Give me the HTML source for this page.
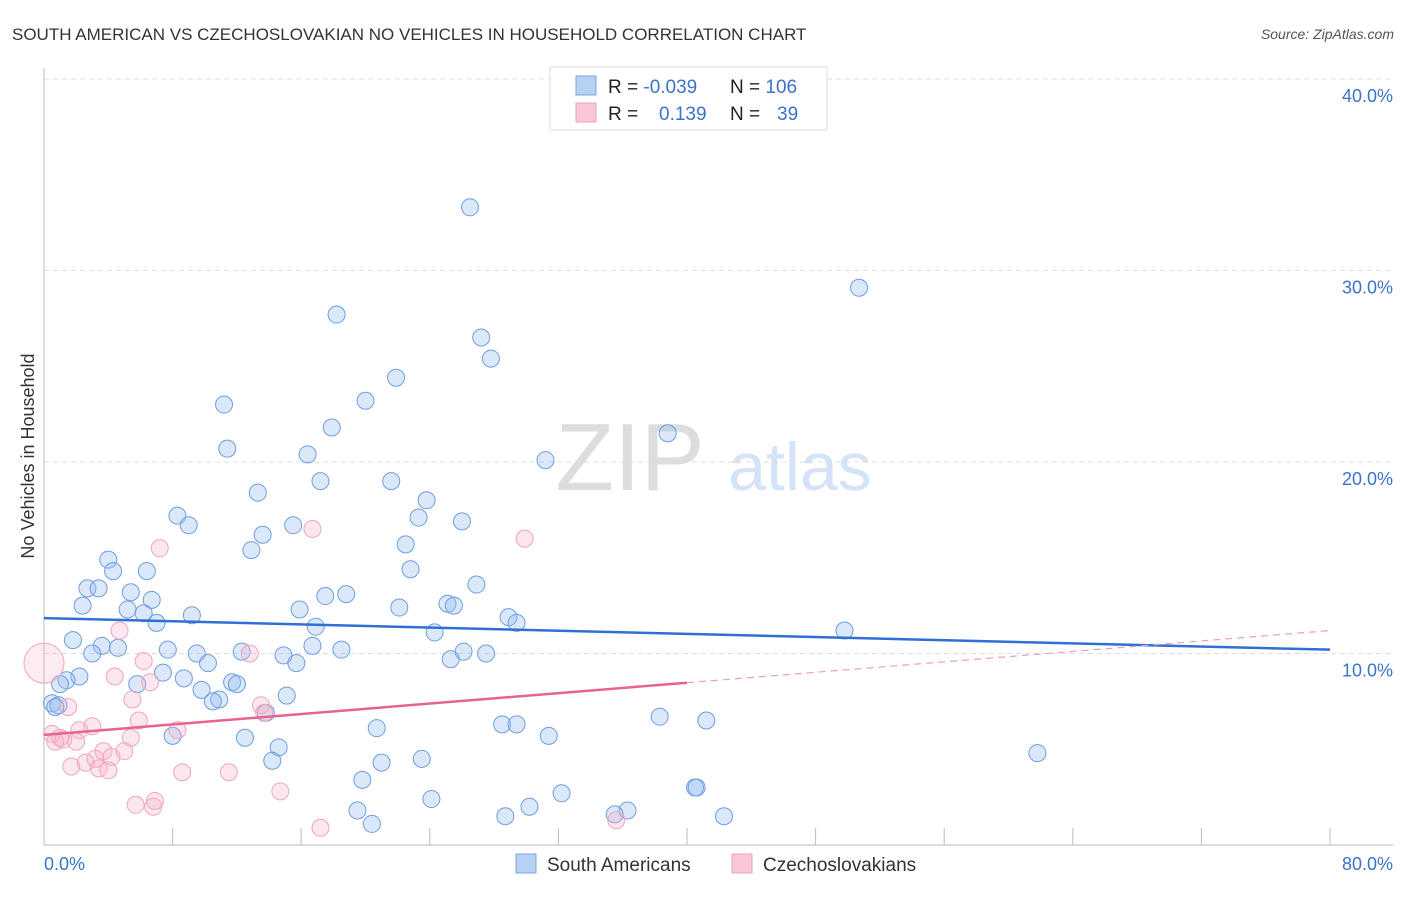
<!DOCTYPE html>
<html><head><meta charset="utf-8"><style>
body{margin:0;background:#fff;font-family:"Liberation Sans",sans-serif;}
svg text{font-family:"Liberation Sans",sans-serif;}
</style></head><body>
<svg id="chart" width="1406" height="892">
<text x="12" y="40" font-size="17" fill="#333">SOUTH AMERICAN VS CZECHOSLOVAKIAN NO VEHICLES IN HOUSEHOLD CORRELATION CHART</text>
<text x="1394" y="39" font-size="14" fill="#555" text-anchor="end" font-style="italic">Source: ZipAtlas.com</text>
<text x="630" y="490" font-size="96" fill="#ddd" text-anchor="middle" font-family="Liberation Serif">ZIP</text>
<text x="800" y="490" font-size="68" fill="#d4e3f5" text-anchor="middle">atlas</text>
<g id="grid"></g><g id="axes"></g><g id="pts"></g><g id="trend"></g>
<text transform="translate(34,456) rotate(-90)" font-size="18" fill="#333" text-anchor="middle">No Vehicles in Household</text>
<g>
<rect x="550" y="67" width="277" height="63" fill="#fff" stroke="#ddd"/>
<rect x="576" y="76" width="20" height="19" fill="#b7d1f2" stroke="#7aa7e0"/>
<rect x="576" y="103" width="20" height="19" fill="#f9c6d6" stroke="#eea0b8"/>
<text x="608" y="93" font-size="19" fill="#222">R = <tspan fill="#3b73c9">-0.039</tspan></text>
<text x="730" y="93" font-size="19" fill="#222">N = <tspan fill="#3b73c9">106</tspan></text>
<text x="608" y="120" font-size="19" fill="#222">R = </text><text x="659" y="120" font-size="19" fill="#3b73c9">0.139</text>
<text x="730" y="120" font-size="19" fill="#222">N = </text><text x="777" y="120" font-size="19" fill="#3b73c9">39</text>
</g>
<g>
<rect x="516" y="854" width="20" height="19" fill="#b7d1f2" stroke="#7aa7e0"/>
<text x="547" y="871" font-size="19" fill="#333">South Americans</text>
<rect x="732" y="854" width="20" height="19" fill="#f9c6d6" stroke="#eea0b8"/>
<text x="763" y="871" font-size="19" fill="#333">Czechoslovakians</text>
</g>
</svg>
<script>
const yTicks=[10,20,30,40];
const xTicks=[0,8,16,24,32,40,48,56,64,72,80];
const blueX=[26.5,50.7,18.2,27.2,27.8,21.9,20.0,11.2,17.9,38.8,11.4,31.2,16.4,17.2,21.6,13.3,23.8,8.3,9.0,15.5,23.3,26.0,13.6,22.5,12.9,4.0,4.3,6.4,22.8,26.9,2.7,3.4,18.8,5.4,17.5,2.4,6.7,5.2,6.2,22.1,15.9,25.1,25.5,28.9,9.2,7.0,29.4,16.9,49.8,24.3,1.8,3.6,4.6,3.0,7.7,12.3,16.7,18.5,14.9,26.1,27.5,9.5,25.3,10.2,15.7,7.4,2.2,1.4,1.0,5.8,8.7,11.7,12.0,9.8,10.9,10.5,15.1,0.5,0.9,0.7,13.8,38.3,41.2,28.5,29.4,20.7,12.5,31.4,8.0,14.6,14.2,21.0,23.5,61.8,19.8,40.5,40.6,32.2,24.1,19.5,30.2,36.3,35.5,28.7,42.3,20.4];
const blueY=[33.3,29.1,27.7,26.5,25.4,24.4,23.2,23.0,21.8,21.5,20.7,20.1,20.4,19.0,19.0,18.4,18.0,17.2,16.7,16.7,17.1,16.9,16.2,15.7,15.4,14.9,14.3,14.3,14.4,13.6,13.4,13.4,13.1,13.2,13.0,12.5,12.8,12.3,12.1,12.4,12.3,12.6,12.5,11.9,12.0,11.6,11.6,11.4,11.2,11.1,10.7,10.4,10.3,10.0,10.2,10.1,10.4,10.2,9.9,10.1,10.0,10.0,9.7,9.5,9.5,9.0,8.8,8.6,8.4,8.4,8.7,8.5,8.4,8.1,7.6,7.5,7.8,7.4,7.3,7.2,6.9,6.7,6.5,6.3,6.3,6.1,5.6,5.7,5.7,5.1,4.4,4.3,4.5,4.8,3.4,3.0,3.0,2.7,2.4,1.8,2.0,1.8,1.6,1.5,1.5,1.1];
const pinkX=[0.0,4.7,7.2,16.7,29.9,6.2,12.8,6.6,4.4,5.5,1.5,5.9,13.5,13.7,3.0,2.2,8.3,2.0,5.4,5.0,3.7,0.5,1.0,1.2,0.7,4.2,3.2,2.6,1.7,3.4,4.0,8.6,11.5,14.7,6.9,5.7,6.8,17.2,35.6];
const pinkY=[9.5,11.2,15.5,16.5,16.0,9.6,10.0,8.5,8.8,7.6,7.2,6.5,7.3,6.9,6.2,6.0,6.0,5.4,5.6,4.9,4.9,5.8,5.6,5.5,5.4,4.6,4.5,4.3,4.1,4.0,3.9,3.8,3.8,2.8,2.3,2.1,2.0,0.9,1.3];
const blueTrend=[11.85,10.2];
const pinkTrend=[5.75,11.2];
const pinkSolidEnd=40;
const NS='http://www.w3.org/2000/svg';
const X=v=>44+v/80*1286, Y=v=>845-v*19.15;
function mk(t,a,p){const e=document.createElementNS(NS,t);for(const k in a)e.setAttribute(k,a[k]);document.getElementById(p).appendChild(e);return e;}
yTicks.forEach(t=>{
 const l=mk('line',{x1:44,x2:1393,y1:Y(t),y2:Y(t),stroke:'#ddd','stroke-dasharray':'5,4'},'grid');
 
 
 const tx=mk('text',{x:1393,y:Y(t)+23,'font-size':18,fill:'#3b73c9','text-anchor':'end'},'grid');
 tx.textContent=t.toFixed(1)+'%';
 
 
});
const ax=mk('line',{x1:44,x2:1393,y1:845,y2:845,stroke:'#bbb'},'axes');


const ay=mk('line',{x1:44,x2:44,y1:68,y2:845,stroke:'#bbb'},'axes');


xTicks.forEach(t=>{
 const l=mk('line',{x1:X(t),x2:X(t),y1:828,y2:845,stroke:'#bbb'},'axes');
 
 
});
[[0,'start'],[80,'end']].forEach(([t,a])=>{
 const tx=mk('text',{x:t==0?44:1393,y:870,'font-size':18,fill:'#3b73c9','text-anchor':a},'axes');
 tx.textContent=t.toFixed(1)+'%';
 
 
});
blueX.forEach((v,i)=>{
 const c=mk('circle',{cx:X(v),cy:Y(blueY[i]),r:8.5,fill:'rgba(150,190,240,0.35)',stroke:'#6f9ee0','stroke-width':1},'pts');
 
 
});
pinkX.forEach((v,i)=>{
 const c=mk('circle',{cx:X(v),cy:Y(pinkY[i]),r:i==0?20:8.5,fill:i==0?'rgba(245,180,200,0.25)':'rgba(245,175,200,0.3)',stroke:'#eea6be','stroke-width':1},'pts');
 
 
});
const bl=mk('line',{x1:X(0),y1:Y(blueTrend[0]),x2:X(80),y2:Y(blueTrend[1]),stroke:'#2f6fd6','stroke-width':2.5},'trend');


const pm=pinkTrend[0]+(pinkTrend[1]-pinkTrend[0])*pinkSolidEnd/80;
const pl=mk('line',{x1:X(0),y1:Y(pinkTrend[0]),x2:X(pinkSolidEnd),y2:Y(pm),stroke:'#e8648f','stroke-width':2.5},'trend');


const pd=mk('line',{x1:X(pinkSolidEnd),y1:Y(pm),x2:X(80),y2:Y(pinkTrend[1]),stroke:'#e8a0b8','stroke-width':1.2,'stroke-dasharray':'7,5'},'trend');


</script>
</body></html>
